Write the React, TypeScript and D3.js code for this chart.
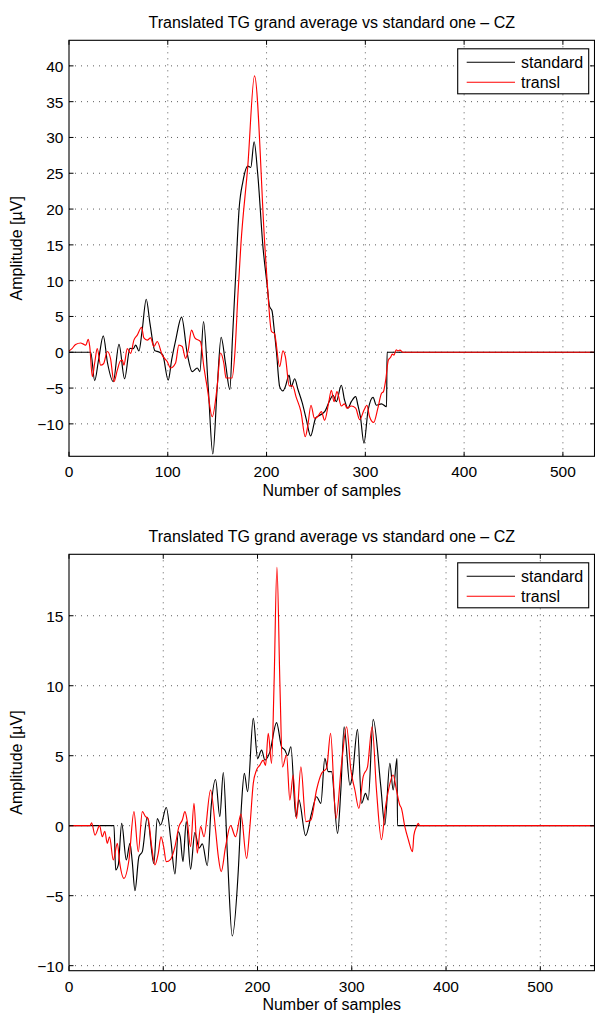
import React from "react";
import * as d3 from "d3";

type Pt = [number, number];

// ---- text ----
const CHART_TITLE = "Translated TG grand average vs standard one – CZ";
const X_LABEL = "Number of samples";
const Y_LABEL = "Amplitude [µV]";
const SERIES_NAMES = ["standard", "transl"];
const SERIES_COLORS = ["#000000", "#ff0000"];

// ---- axes ----
const X_TICKS = [0, 100, 200, 300, 400, 500];
const TOP_X_DOMAIN: Pt = [0, 532];
const TOP_Y_DOMAIN: Pt = [-14.53, 43.57];
const TOP_Y_TICKS = [-10, -5, 0, 5, 10, 15, 20, 25, 30, 35, 40];
const BOTTOM_X_DOMAIN: Pt = [0, 557.5];
const BOTTOM_Y_DOMAIN: Pt = [-10.36, 19.39];
const BOTTOM_Y_TICKS = [-10, -5, 0, 5, 10, 15];

// ---- upper panel: [sample, amplitude µV] ----
const topStandard: Pt[] = [
  [0, 0], [22, 0], [26, -3.96], [30, -1], [34.7, 2.28], [39, -1.5], [44.8, -4.1],
  [50.6, 1.1], [56.3, -3.7], [61.7, 0.55], [65, 0.5], [67.5, 1.0], [70.8, 0.18],
  [74, 3], [78.2, 7.4], [82, 4], [87, 0.2], [91, 0.05], [95, -0.4], [100.4, -3.9],
  [104, -1], [108, 1.7], [114, 4.9], [119.6, -0.1], [124.7, -2.7], [129.8, -2.2],
  [132.5, -2.7], [136.2, 4.3], [141, -5], [145.6, -14.2], [150, -5], [154, 2.1],
  [158.4, -1.5], [162.8, -5.2], [165.5, 2], [168.5, 10.1], [172.2, 20], [176, 23.8],
  [181, 26], [184, 25.8], [187.4, 29.4], [191, 25], [196.5, 14.5], [200.5, 9.5],
  [203, 6.4], [205.5, 5.8], [207.5, 3.5], [210, 0.1], [213.3, -4.8], [216.6, -5.4],
  [219, -4.8], [222.8, -3.2], [225, -4.8], [228.5, -3.7], [231.8, -5.2], [236, -7],
  [240.3, -9.4], [244.6, -11.7], [249.7, -9.2], [253.8, -8.8], [258.8, -8.3],
  [263.9, -6.75], [267.3, -6.0], [270.6, -6.9], [275.7, -4.6], [279, -6.7],
  [282.4, -7.8], [285.8, -6.9], [290.2, -6.2], [292.5, -7.4], [295, -9],
  [298.6, -12.7], [302.8, -8.1], [307.8, -6.3], [311.2, -7.4], [316.3, -7.2],
  [321.5, -7.6], [322, 0], [532, 0],
];

const topTransl: Pt[] = [
  [0, 0.17], [3, 0.5], [6.7, 1.1], [11.8, 1.3], [15, 1.1], [17, 1.0], [19.5, 1.8],
  [21, 0.8], [23.6, -3.4], [26, -1.5], [28.6, 0.5], [32, -1.8], [35, -1.6],
  [38.8, 0.1], [42, -0.85], [45.5, -4.1], [48.9, -2.5], [52, -1.2], [54, -1.1],
  [55.6, -1.8], [59, 0.5], [62.4, -0.15], [65.7, 1.7], [69.1, 2.4], [73.5, 3.5],
  [75.8, 2.0], [79.2, 1.7], [82.6, 2.0], [86, 0.8], [89.3, 1.5], [94.4, -0.4],
  [99.4, -1.3], [102.8, -2.2], [107.9, -1.5], [111.2, 1.0], [114.6, 0.8], [118, -0.85],
  [120.7, 0.3], [124, 3.1], [127.4, 2.0], [133.1, 1.5], [136.5, -2.0], [140, -5],
  [145, -9.0], [150, -4.8], [153.4, -0.1], [156.7, -1.5], [159, -3.6], [165, -3.6],
  [168, 0], [171, 8], [174, 15], [181, 26], [187.8, 38.6], [198.2, 15], [200.5, 10.1],
  [205, 2.9], [208, 2.6], [213.3, -2.0], [216.6, 0.2], [219, -0.6], [223, -4.7],
  [226.5, -4.7], [229.8, -6.2], [234.8, -8.3], [239.2, -11.8], [241.6, -10.4],
  [245, -7.4], [248.4, -9.2], [251.7, -9.0], [255.5, -8.3], [258.8, -9.5],
  [262.8, -7.1], [265.6, -5.3], [268.3, -6.9], [271.3, -5.5], [275.7, -7.5],
  [279, -7.2], [281.4, -7.8], [285.8, -7.5], [290.2, -7.8], [294.3, -9.4],
  [298.6, -8.1], [301.6, -7.4], [304.3, -9.0], [308.4, -9.8], [312.7, -7.8],
  [316.3, -5.75], [318.3, -5.5], [320.6, -3.9], [323.3, -1.1], [325.6, -0.7],
  [327.3, -0.25], [329, -0.4], [331.3, 0.35], [333, 0.2], [335, 0.3], [338, 0],
  [532, 0],
];

// ---- lower panel: [sample, amplitude µV] ----
const bottomStandard: Pt[] = [
  [0, 0], [47.7, 0], [49.5, -3.16], [52.3, -2.8], [55.9, 0.17], [60.8, -2.45],
  [64.7, -1.26], [67, -2.5], [70, -4.64], [74.2, -2.2], [77.8, -1.85], [83, 0.6],
  [90, -2.7], [93.7, 0.5], [97.2, 0.05], [103.2, 1.3], [108, -1], [112.4, -3.45],
  [116, -0.43], [118, -0.8], [120.9, -2.57], [124.4, 0.29], [129, -3.1],
  [133.5, -0.5], [138, -1.6], [141.5, -1.3], [146.7, -2.85], [151, 1.5],
  [155.5, 3.3], [160, 0.65], [163.7, 3.8], [168, -2], [173.2, -7.88], [179.6, -3.2],
  [183, 1.5], [186, 3.74], [189.5, 2.43], [195.5, 7.67], [200.1, 4.81], [204.3, 5.4],
  [207.9, 4.69], [213.2, 5.29], [220.2, 7.36], [225.5, 5.64], [229, 5.4], [232, 5.0],
  [235.4, 5.64], [240.7, 0.64], [243.9, 1.84], [251, -0.71], [257.3, 0.88],
  [262.6, 2.07], [267.2, 1.6], [271.4, 4.81], [275, 3.86], [278.5, 3.86],
  [284.9, -0.55], [288.4, 2.55], [291.9, 7.07], [298, 2.9], [300.5, 3.5],
  [306.1, 6.88], [310.4, 1.6], [314.6, 2.31], [317.4, 1.83], [322.7, 7.6],
  [330.8, 2.79], [335, 0.05], [340.4, 4.45], [343.9, 2.55], [348, 4.81],
  [348.5, 0], [557.5, 0],
];

const bottomTransl: Pt[] = [
  [0, 0], [22.3, 0], [24, 0.2], [27.6, -0.67], [32.5, 0], [35.3, -0.79], [38, -0.4],
  [40.6, -1.26], [43, -0.8], [47, -2.45], [51.3, -1.26], [53.7, -2.6], [58.3, -3.76],
  [63.6, -2.45], [68.9, 1.0], [73.5, -1.86], [77.8, 1.0], [81.3, 0.64], [84, 0.5],
  [87.7, -1.5], [91.2, -2.8], [94.7, -1.97], [97.6, -0.79], [100.4, -1.5],
  [103.2, -2.57], [107.8, -2.4], [112.4, -1.5], [116.6, -0.07], [120.2, 0.41],
  [123, 1.0], [125.5, 0.29], [129, -1.5], [132.6, 1.6], [136.1, -1.97],
  [139.6, -0.07], [143.2, -0.79], [150.2, 2.55], [155.5, -0.31], [158.4, -2.2],
  [161.5, -3.28], [166.1, -1.5], [171.4, 0], [176.7, -0.79], [182.4, 0.83],
  [188.4, -2.33], [192, 0], [195.5, 3.02], [199, 3.98], [202.5, 4.33], [206, 4.69],
  [208.5, 4.3], [211.4, 6.6], [214.9, 4.45], [217.5, 10], [220.6, 18.46],
  [223.8, 10], [226.5, 4.2], [230.8, 5.05], [234.3, 1.83], [237.8, 3.62],
  [241.4, 0.52], [246, 4.21], [251.3, 0.29], [256.6, 0.4], [262.6, 2.55], [268, 3.74],
  [273.3, 4.1], [277.5, 6.6], [283.2, 0.52], [289.2, 4.45], [294.5, 7.07], [299, 4],
  [303.3, 2.55], [307.5, 1.24], [312.1, 3.5], [316.7, 4.21], [321.6, 7.07],
  [326.2, 2.55], [331.5, -1.0], [335.8, 1.36], [338.6, 2.43], [343.9, 3.62],
  [347.4, 2.55], [350.9, 1.48], [352.7, 1.24], [356.3, -0.07], [360.1, -1.02],
  [364.4, -1.86], [365.9, -0.67], [368.7, -0.07], [370.5, 0.17], [372, 0],
  [557.5, 0],
];

const FONT = "'Liberation Sans', Arial, Helvetica, sans-serif";
const fmt = d3.format("d");

type PanelProps = {
  id: string;
  top: number;
  bottom: number;
  xDomain: Pt;
  yDomain: Pt;
  yTicks: number[];
  series: Pt[][];
};

const LEFT = 69;
const RIGHT = 594.5;

function Panel({ id, top, bottom, xDomain, yDomain, yTicks, series }: PanelProps) {
  const x = d3.scaleLinear().domain(xDomain).range([LEFT, RIGHT]);
  const y = d3.scaleLinear().domain(yDomain).range([bottom, top]);
  const line = d3
    .line<Pt>()
    .x((d) => x(d[0]))
    .y((d) => y(d[1]))
    .curve(d3.curveMonotoneX);
  const tickLen = 4.5;
  const grid = { stroke: "#333", strokeWidth: 0.8, strokeDasharray: "1 5" };
  const midY = (top + bottom) / 2;
  const midX = (LEFT + RIGHT) / 2;
  const legX = 457.7;
  const legY = top + 8.5;

  return (
    <g>
      <defs>
        <clipPath id={id}>
          <rect x={LEFT} y={top} width={RIGHT - LEFT} height={bottom - top} />
        </clipPath>
      </defs>
      {/* grid */}
      {X_TICKS.filter((t) => t > xDomain[0]).map((t) => (
        <line key={"gx" + t} x1={x(t)} x2={x(t)} y1={top} y2={bottom} {...grid} />
      ))}
      {yTicks.map((t) => (
        <line key={"gy" + t} x1={LEFT} x2={RIGHT} y1={y(t)} y2={y(t)} {...grid} />
      ))}
      {/* traces */}
      <g clipPath={`url(#${id})`}>
        {series.map((s, i) => (
          <path
            key={i}
            d={line(s) || ""}
            fill="none"
            stroke={SERIES_COLORS[i]}
            strokeWidth={1.15}
            strokeLinejoin="round"
          />
        ))}
      </g>
      {/* frame and ticks */}
      <rect x={LEFT} y={top} width={RIGHT - LEFT} height={bottom - top} fill="none" stroke="#000" strokeWidth={1.1} />
      {X_TICKS.map((t) => (
        <g key={"tx" + t}>
          <line x1={x(t)} x2={x(t)} y1={bottom} y2={bottom - tickLen} stroke="#000" />
          <line x1={x(t)} x2={x(t)} y1={top} y2={top + tickLen} stroke="#000" />
          <text x={x(t)} y={bottom + 21} textAnchor="middle" fontSize={15.5} fontFamily={FONT}>
            {fmt(t)}
          </text>
        </g>
      ))}
      {yTicks.map((t) => (
        <g key={"ty" + t}>
          <line x1={LEFT} x2={LEFT + tickLen} y1={y(t)} y2={y(t)} stroke="#000" />
          <line x1={RIGHT} x2={RIGHT - tickLen} y1={y(t)} y2={y(t)} stroke="#000" />
          <text x={63.5} y={y(t) + 6} textAnchor="end" fontSize={15.5} fontFamily={FONT}>
            {fmt(t)}
          </text>
        </g>
      ))}
      {/* labels */}
      <text x={midX} y={top - 12} textAnchor="middle" fontSize={16} fontFamily={FONT}>
        {CHART_TITLE}
      </text>
      <text x={midX} y={bottom + 39.5} textAnchor="middle" fontSize={16} fontFamily={FONT}>
        {X_LABEL}
      </text>
      <text
        transform={`translate(22,${midY}) rotate(-90)`}
        textAnchor="middle"
        fontSize={16}
        fontFamily={FONT}
      >
        {Y_LABEL}
      </text>
      {/* legend */}
      <rect x={legX} y={legY} width={131} height={45} fill="#fff" stroke="#000" strokeWidth={1.1} />
      {SERIES_NAMES.map((name, i) => {
        const ry = legY + 13.4 + i * 20;
        return (
          <g key={name}>
            <line x1={466.7} x2={515} y1={ry} y2={ry} stroke={SERIES_COLORS[i]} strokeWidth={1.1} />
            <text x={521} y={ry + 5.5} fontSize={16} fontFamily={FONT}>
              {name}
            </text>
          </g>
        );
      })}
    </g>
  );
}

export default function App() {
  return (
    <svg
      width={595}
      height={1014}
      style={{ position: "absolute", left: 0, top: 0, background: "#fff" }}
    >
      <rect width={595} height={1014} fill="#fff" />
      <Panel
        id="clip-upper"
        top={40.3}
        bottom={456.3}
        xDomain={TOP_X_DOMAIN}
        yDomain={TOP_Y_DOMAIN}
        yTicks={TOP_Y_TICKS}
        series={[topStandard, topTransl]}
      />
      <Panel
        id="clip-lower"
        top={554.3}
        bottom={970.7}
        xDomain={BOTTOM_X_DOMAIN}
        yDomain={BOTTOM_Y_DOMAIN}
        yTicks={BOTTOM_Y_TICKS}
        series={[bottomStandard, bottomTransl]}
      />
    </svg>
  );
}
